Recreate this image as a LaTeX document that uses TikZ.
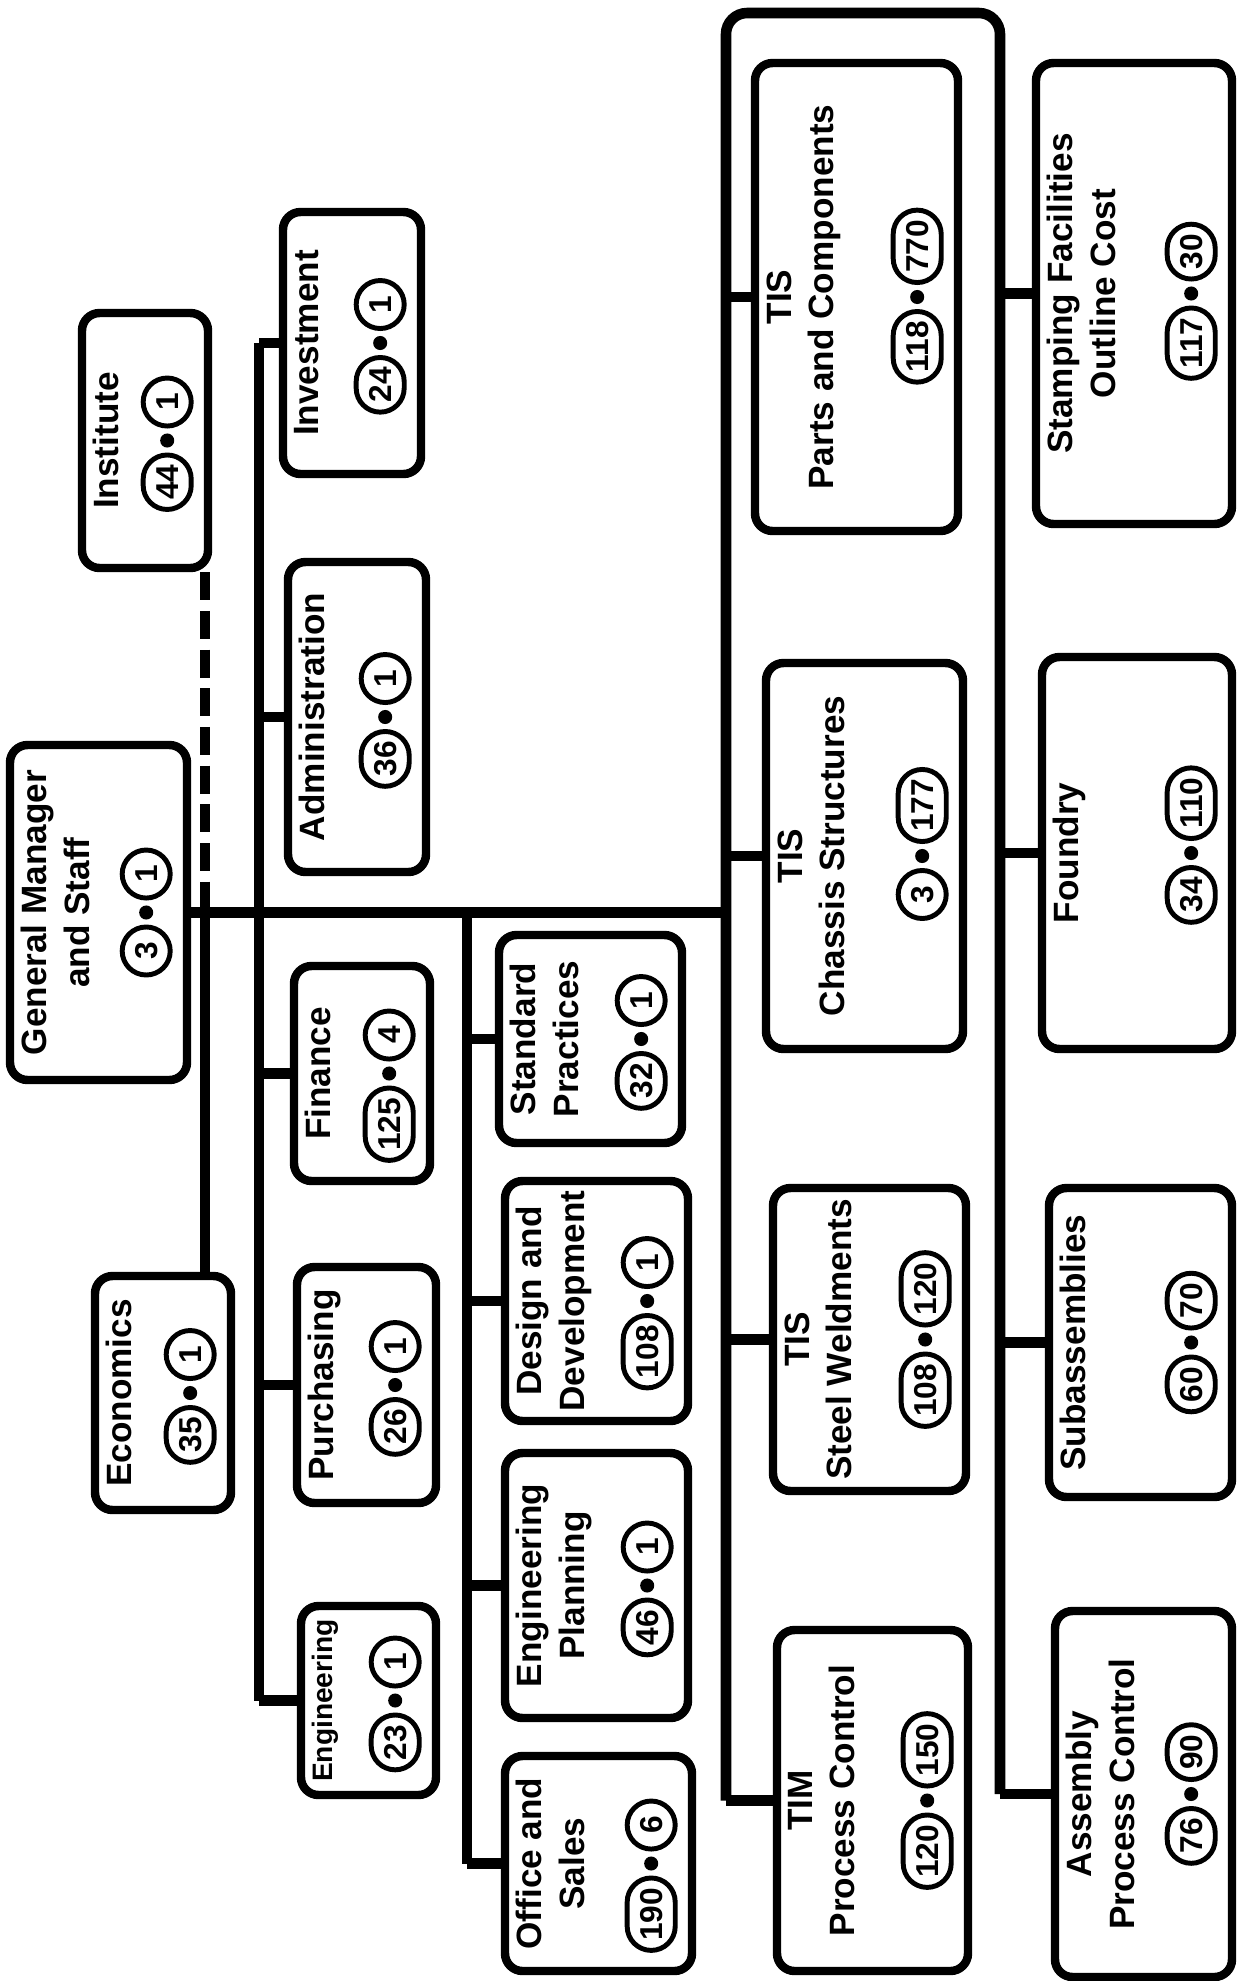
\documentclass[tikz,border=0pt]{standalone}
\usepackage{fontspec}
\setmainfont{Liberation Sans}
\usetikzlibrary{shapes.geometric,shapes.misc,positioning,calc,fit}

% one unit of the chart: box, name, head count pair
\newcommand{\orgunit}[8]{%
  \node[unitbox, fit={(#2,#3) (#4,#5)}] (#1) {};
  \node[unittext, anchor=north] (#1-txt) at ([xshift=0.15cm]#1.west) {#6};
  \node[sepdot] (#1-dot) at ([xshift=-0.45cm]#1.east) {};
  \node[countoval, anchor=east] (#1-a) at ([yshift=-0.12cm]#1-dot.center) {#7};
  \node[countoval, anchor=west] (#1-b) at ([yshift=0.12cm]#1-dot.center) {#8};
}

\begin{document}
\begin{tikzpicture}[x=0.01cm, y=-0.01cm,
    unitbox/.style={draw, line width=2.4pt, rounded corners=5pt, inner sep=0pt},
    unittext/.style={rotate=90, align=center, font=\bfseries, inner sep=0pt},
    countoval/.style={rotate=90, draw, rounded rectangle, line width=1.4pt,
                      inner xsep=2pt, inner ysep=1pt,
                      minimum height=0.48cm, minimum width=0.5cm, font=\small\bfseries},
    sepdot/.style={circle, fill, inner sep=0pt, minimum size=4pt},
    link/.style={line width=3pt}]
\useasboundingbox (0,0) rectangle (1238,1981);

% top of the chart
\orgunit{GM}{10}{745}{187}{1080}{General Manager\\and Staff}{3}{1}
\orgunit{Inst}{82}{313}{208}{568}{Institute}{44}{1}
\orgunit{Econ}{95}{1276}{231}{1510}{Economics}{35}{1}

% staff departments
\orgunit{Invest}{283}{212}{421}{474}{Investment}{24}{1}
\orgunit{Admin}{288}{562}{426}{872}{Administration}{36}{1}
\orgunit{Fin}{294}{966}{430}{1181}{Finance}{125}{4}
\orgunit{Purch}{297}{1267}{436}{1503}{Purchasing}{26}{1}
\orgunit{Eng}{301}{1606}{436}{1795}{\footnotesize Engineering}{23}{1}

% technical departments
\orgunit{Std}{499}{935}{682}{1143}{Standard\\Practices}{32}{1}
\orgunit{Des}{505}{1181}{688}{1421}{Design and\\Development}{108}{1}
\orgunit{EngP}{505}{1453}{688}{1718}{Engineering\\Planning}{46}{1}
\orgunit{Off}{505}{1756}{692}{1971}{Office and\\Sales}{190}{6}

% plants
\orgunit{TISp}{755}{63}{958}{531}{TIS\\Parts and Components}{118}{770}
\orgunit{TISc}{766}{663}{963}{1049}{TIS\\Chassis Structures}{3}{177}
\orgunit{TISw}{773}{1188}{966}{1491}{TIS\\Steel Weldments}{108}{120}
\orgunit{TIM}{777}{1630}{968}{1971}{TIM\\Process Control}{120}{150}
\orgunit{Stamp}{1036}{63}{1232}{524}{Stamping Facilities\\Outline Cost}{117}{30}
\orgunit{Found}{1042}{657}{1232}{1049}{Foundry}{34}{110}
\orgunit{Sub}{1049}{1188}{1232}{1497}{Subassemblies}{60}{70}
\orgunit{Assy}{1055}{1611}{1232}{1977}{Assembly\\Process Control}{76}{90}

% bus lines
\coordinate (bus0) at (205,0);
\coordinate (bus1) at (259,0);
\coordinate (bus2) at (467,0);
\coordinate (frTL) at (726,13);
\coordinate (frTR) at (1000,13);

\draw[link] (GM.east) -- (GM.east -| frTL);
\draw[link, dash pattern=on 8pt off 3pt] (Inst.south -| bus0) -- (GM.east -| bus0);
\draw[link] (GM.east -| bus0) -- (Econ.north -| bus0);

\draw[link] (Invest.west -| bus1) -- (Eng.west -| bus1);
\foreach \u in {Invest,Admin,Fin,Purch,Eng}
  \draw[link] (\u.west -| bus1) -- (\u.west);

\draw[link] (GM.east -| bus2) -- (Off.west -| bus2);
\foreach \u in {Std,Des,EngP,Off}
  \draw[link] (\u.west -| bus2) -- (\u.west);

% plant frame
\draw[link, rounded corners=6pt] (TIM.west -| frTL) -- (frTL) -- (frTR) -- (Assy.west -| frTR);
\foreach \u in {TISp,TISc,TISw,TIM}
  \draw[link] (\u.west -| frTL) -- (\u.west);
\foreach \u in {Stamp,Found,Sub,Assy}
  \draw[link] (\u.west -| frTR) -- (\u.west);
\end{tikzpicture}
\end{document}
